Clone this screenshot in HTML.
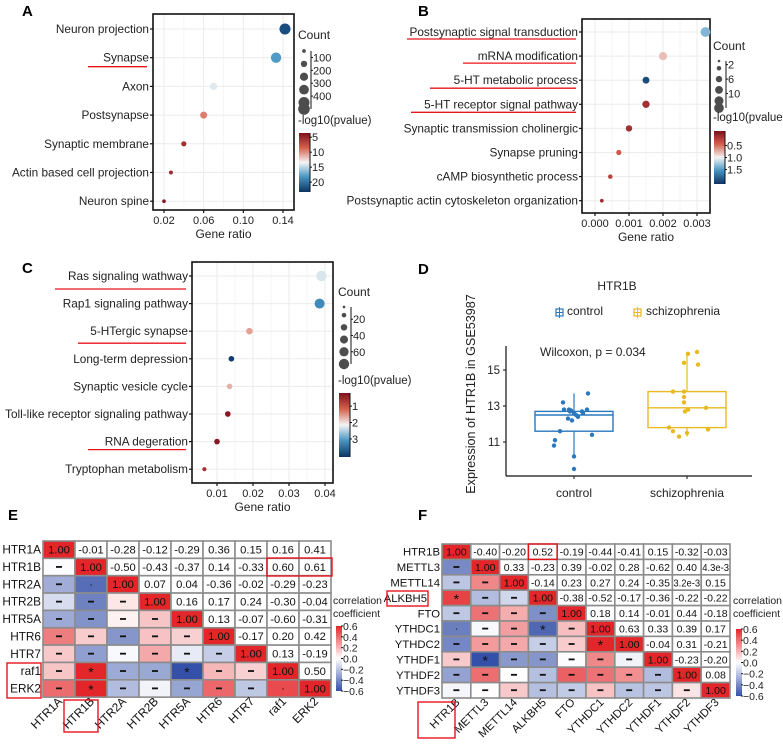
<!DOCTYPE html>
<html><head><meta charset="utf-8">
<style>
html,body{margin:0;padding:0;background:#fff;}
svg{display:block;font-family:"Liberation Sans",Arial,sans-serif;}
</style></head>
<body>
<svg id="fig" width="783" height="746" viewBox="0 0 783 746" xmlns="http://www.w3.org/2000/svg">
<defs>
<linearGradient id="rdbu" x1="0" y1="0" x2="0" y2="1">
<stop offset="0" stop-color="#7f0f1e"/><stop offset="0.25" stop-color="#d6604d"/><stop offset="0.5" stop-color="#f4f4f4"/><stop offset="0.75" stop-color="#4393c3"/><stop offset="1" stop-color="#0b3366"/>
</linearGradient>
<linearGradient id="corr" x1="0" y1="0" x2="0" y2="1">
<stop offset="0" stop-color="#e3262a"/><stop offset="0.5" stop-color="#ffffff"/><stop offset="1" stop-color="#3550a8"/>
</linearGradient>
</defs>
</svg>
<script>
// ---------- Panel A data ----------
const aTerms=["Neuron projection","Synapse","Axon","Postsynapse","Synaptic membrane","Actin based cell projection","Neuron spine"];
const aRatio=[0.142,0.133,0.070,0.060,0.040,0.027,0.020];
const aCount=[450,400,200,180,100,60,50];
const aLogp=[22,18,14,9.5,5.5,5.5,4.2];
const aTicks=[0.02,0.06,0.10,0.14];
const aCountTicks=[100,200,300,400];
const aColorTicks=[5,10,15,20];
// ---------- Panel B data ----------
const bTerms=["Postsynaptic signal transduction","mRNA modification","5-HT metabolic process","5-HT receptor signal pathway","Synaptic transmission cholinergic","Synapse pruning","cAMP biosynthetic process","Postsynaptic actin cytoskeleton organization"];
const bRatio=[0.00325,0.0020,0.0015,0.0015,0.0010,0.0007,0.00045,0.0002];
const bCount=[14,10,7,8,6,4,3,2];
const bLogp=[1.35,0.8,1.95,0.12,0.12,0.4,0.25,0.1];
const bTicks=[0,0.001,0.002,0.003];
const bCountTicks=[2,6,10];
const bColorTicks=[0.5,1.0,1.5];
// ---------- Panel C data ----------
const cTerms=["Ras signaling wathway","Rap1 signaling pathway","5-HTergic synapse","Long-term depression","Synaptic vesicle cycle","Toll-like receptor signaling pathway","RNA degeration","Tryptophan metabolism"];
const cRatio=[0.0390,0.0385,0.0190,0.0140,0.0135,0.0130,0.0100,0.0065];
const cCount=[75,70,30,22,22,22,22,12];
const cLogp=[2.3,3.2,1.6,4.0,1.7,0.3,0.3,0.6];
const cTicks=[0.01,0.02,0.03,0.04];
const cCountTicks=[20,40,60];
const cColorTicks=[1,2,3];
// ---------- Panel D data ----------
const dGroups=["control","schizophrenia"];
const dControl=[13.2,13.7,12.8,12.75,12.8,12.7,12.6,12.5,12.4,12.3,12.2,12.7,12.6,12.8,11.6,11.4,11.1,10.8,10.2,9.5];
const dSchizo=[16.0,15.9,15.4,15.3,13.8,13.8,13.5,13.2,12.9,12.8,12.7,11.8,11.7,11.6,11.5,11.3];
const dControlBox=[10.2,11.6,12.5,12.7,13.7];
const dSchizoBox=[11.3,11.8,12.9,13.8,16.0];
const dYTicks=[11,13,15];
// ---------- Panel E data ----------
const eGenes=["HTR1A","HTR1B","HTR2A","HTR2B","HTR5A","HTR6","HTR7","raf1","ERK2"];
const eUpper=[
[-0.01,-0.28,-0.12,-0.29,0.36,0.15,0.16,0.41],
[-0.50,-0.43,-0.37,0.14,-0.33,0.60,0.61],
[0.07,0.04,-0.36,-0.02,-0.29,-0.23],
[0.16,0.17,0.24,-0.30,-0.04],
[0.13,-0.07,-0.60,-0.31],
[-0.17,0.20,0.42],
[0.13,-0.19],
[0.50]];
const eMarks=[[2,1,"."],[7,1,"*"],[8,1,"*"],[7,4,"*"],[8,7,"."]];
// ---------- Panel F data ----------
const fGenes=["HTR1B","METTL3","METTL14","ALKBH5","FTO","YTHDC1","YTHDC2","YTHDF1","YTHDF2","YTHDF3"];
const fUpper=[
[-0.40,-0.20,0.52,-0.19,-0.44,-0.41,0.15,-0.32,-0.03],
[0.33,-0.23,0.39,-0.02,0.28,-0.62,0.40,0.0043],
[-0.14,0.23,0.27,0.24,-0.35,0.0032,0.15],
[-0.38,-0.52,-0.17,-0.36,-0.22,-0.22],
[0.18,0.14,-0.01,0.44,-0.18],
[0.63,0.33,0.39,0.17],
[-0.04,0.31,-0.21],
[-0.23,-0.20],
[0.08]];
const fLabels=[
["-0.40","-0.20","0.52","-0.19","-0.44","-0.41","0.15","-0.32","-0.03"],
["0.33","-0.23","0.39","-0.02","0.28","-0.62","0.40","4.3e-3"],
["-0.14","0.23","0.27","0.24","-0.35","3.2e-3","0.15"],
["-0.38","-0.52","-0.17","-0.36","-0.22","-0.22"],
["0.18","0.14","-0.01","0.44","-0.18"],
["0.63","0.33","0.39","0.17"],
["-0.04","0.31","-0.21"],
["-0.23","-0.20"],["0.08"]];
const fMarks=[[3,0,"*"],[5,0,"."],[5,3,"*"],[6,5,"*"],[7,1,"*"]];
const corrTicks=["0.6","0.4","0.2","0.0","\u22120.2","\u22120.4","\u22120.6"];

const svg=document.getElementById('fig');
const NS="http://www.w3.org/2000/svg";
function mk(tag,attrs,parent,txt){const e=document.createElementNS(NS,tag);for(const k in attrs){if(attrs[k]!==undefined)e.setAttribute(k,attrs[k]);}if(txt!==undefined)e.textContent=txt;(parent||svg).appendChild(e);return e;}
function hex(h){return [parseInt(h.slice(1,3),16),parseInt(h.slice(3,5),16),parseInt(h.slice(5,7),16)];}
function lerpStops(stops,t){t=Math.max(0,Math.min(1,t));for(let i=0;i<stops.length-1;i++){const a=stops[i],b=stops[i+1];if(t<=b[0]){const u=(t-a[0])/(b[0]-a[0]);const ca=hex(a[1]),cb=hex(b[1]);return 'rgb('+ca.map((v,k)=>Math.round(v+(cb[k]-v)*u)).join(',')+')';}}return stops[stops.length-1][1];}
const rdbuStops=[[0,"#7f0f1e"],[0.25,"#d6604d"],[0.5,"#f4f4f4"],[0.75,"#4393c3"],[1,"#0b3366"]];
const corrStops=[[0,"#3550a8"],[0.5,"#ffffff"],[1,"#e3262a"]];
function corrColor(v){return lerpStops(corrStops,(v+0.6)/1.2);}

function letter(t,x,y){const e=mk('text',{x:x,y:y,'font-size':15,'font-weight':'bold'},svg,t);}

function dotPlot(o){
  const g=mk('g',{});
  
  
  const n=o.terms.length;
  const xs=v=>o.x0+(v-o.t0)/(o.t1-o.t0)*(o.x1-o.x0);
  const ys=i=>o.rowY0+i*o.rowStep;
  for(let k=0;k<o.ticks.length;k++){mk('line',{x1:xs(o.ticks[k]),x2:xs(o.ticks[k]),y1:o.top,y2:o.bottom,stroke:'#ebebeb','stroke-width':1},g);
    if(k<o.ticks.length-1){const m=(o.ticks[k]+o.ticks[k+1])/2;mk('line',{x1:xs(m),x2:xs(m),y1:o.top,y2:o.bottom,stroke:'#f4f4f4','stroke-width':0.8},g);}}
  for(let i=0;i<n;i++)mk('line',{x1:o.left,x2:o.right,y1:ys(i),y2:ys(i),stroke:'#ebebeb','stroke-width':1},g);
  mk('rect',{x:o.left,y:o.top,width:o.right-o.left,height:o.bottom-o.top,fill:'none',stroke:'#111','stroke-width':1.6},g);
  for(let i=0;i<n;i++){
    const y=ys(i);
    mk('line',{x1:o.left-3,x2:o.left,y1:y,y2:y,stroke:'#111','stroke-width':1.2},g);
    const t=mk('text',{x:o.left-4,y:y+4,'font-size':11.8,'text-anchor':'end',fill:'#222'},g,o.terms[i]);
    
    
    const c=mk('circle',{cx:xs(o.ratio[i]),cy:y,r:o.rk*Math.sqrt(o.count[i]),fill:lerpStops(rdbuStops,(o.logp[i]-o.cmin)/(o.cmax-o.cmin))},g);
    
    
  }
  for(const tv of o.ticks){
    const x=xs(tv);
    mk('line',{x1:x,x2:x,y1:o.bottom,y2:o.bottom+3,stroke:'#111','stroke-width':1.2},g);
    const t=mk('text',{x:x,y:o.bottom+14,'font-size':11,'text-anchor':'middle',fill:'#222'},g,o.fmt(tv));
    
    
  }
  const xt=mk('text',{x:(o.left+o.right)/2,y:o.bottom+28,'font-size':12,'text-anchor':'middle',fill:'#222'},g,'Gene ratio');
  
  
  for(const u of o.under){const l=mk('line',{x1:u[1],x2:o.left-6,y1:ys(u[0])+u[2],y2:ys(u[0])+u[2],stroke:'#e8141c','stroke-width':1.3},g);
    
    }
  const L=o.leg;
  const ct=mk('text',{x:L.x,y:L.y,'font-size':12,fill:'#222'},g,'Count');
  
  
  const cy0=L.y+L.dy0, cy1=L.y+L.dy1;
  const cs=v=>cy0+(v-L.cmin)/(L.cmax-L.cmin)*(cy1-cy0);
  for(const k of L.sizes){mk('circle',{cx:L.x+6,cy:cs(k),r:o.rk*Math.sqrt(k),fill:'#4d4d4d'},g);}
  mk('line',{x1:L.x+13,x2:L.x+13,y1:cs(L.sizes[0]),y2:cs(L.sizes[L.sizes.length-1]),stroke:'#111','stroke-width':1},g);
  for(const k of o.countTicks){mk('line',{x1:L.x+13,x2:L.x+15,y1:cs(k),y2:cs(k),stroke:'#111'},g);
    mk('text',{x:L.x+15,y:cs(k)+4,'font-size':11,fill:'#222'},g,String(k));}
  const pt=mk('text',{x:L.x,y:L.py,'font-size':11.5,fill:'#222'},g,'-log10(pvalue)');
  
  
  const cb=mk('rect',{x:L.x+1,y:L.by0,width:11,height:L.by1-L.by0,fill:'url(#rdbu)'},g);
  
  
  const bs=v=>L.by0+(v-o.cmin)/(o.cmax-o.cmin)*(L.by1-L.by0);
  mk('line',{x1:L.x+12,x2:L.x+12,y1:L.by0,y2:L.by1,stroke:'#111'},g);
  for(const v of o.colorTicks){mk('line',{x1:L.x+12,x2:L.x+14,y1:bs(v),y2:bs(v),stroke:'#111'},g);
    mk('text',{x:L.x+14,y:bs(v)+4,'font-size':11,fill:'#222'},g,o.cfmt(v));}
}

letter('A',22,16);
dotPlot({name:'panel-a-go-dotplot',terms:aTerms,ratio:aRatio,count:aCount,logp:aLogp,ticks:aTicks,countTicks:aCountTicks,colorTicks:aColorTicks,
 left:153,right:294,top:14,bottom:210,x0:164,x1:283,t0:0.02,t1:0.14,rowY0:29,rowStep:28.7,rk:0.26,cmin:3.6,cmax:23.3,
 fmt:v=>v.toFixed(2),cfmt:v=>String(v),under:[[1,88,9]],
 leg:{x:298,y:39,dy0:12,dy1:70,cmin:50,cmax:500,sizes:[50,150,250,350,450,500],py:124,by0:133,by1:192}});

letter('B',418,16);
dotPlot({name:'panel-b-go-dotplot',terms:bTerms,ratio:bRatio,count:bCount,logp:bLogp,ticks:bTicks,countTicks:bCountTicks,colorTicks:bColorTicks,
 left:582,right:710,top:19,bottom:213,x0:595,x1:697,t0:0,t1:0.003,rowY0:32,rowStep:24.1,rk:1.3,cmin:-0.1,cmax:2.1,
 fmt:v=>v.toFixed(3),cfmt:v=>v.toFixed(1),under:[[0,407,7],[1,463,7],[2,430,8],[3,411,8]],
 leg:{x:713,y:50,dy0:11,dy1:58,cmin:1,cmax:14,sizes:[1,3,6,9,12,14],py:121,by0:131,by1:184}});

letter('C',22,273);
dotPlot({name:'panel-c-kegg-dotplot',terms:cTerms,ratio:cRatio,count:cCount,logp:cLogp,ticks:cTicks,countTicks:cCountTicks,colorTicks:cColorTicks,
 left:192,right:333,top:262,bottom:483,x0:217,x1:325,t0:0.01,t1:0.04,rowY0:276,rowStep:27.6,rk:0.6,cmin:0.2,cmax:4.1,
 fmt:v=>v.toFixed(2),cfmt:v=>String(v),under:[[0,55,13],[2,78,12],[6,88,8]],
 leg:{x:338,y:296,dy0:11,dy1:68,cmin:5,cmax:75,sizes:[5,15,30,45,60,75],py:384,by0:393,by1:457}});

// ---------- Panel D ----------
letter('D',418,274);
(function(){
  const g=mk('g',{});
  
  
  const ys=v=>406-(v-13)*18;
  const xc=[574,687];
  const cols=['#2a78bd','#e8b923'];
  const jit=[[-11,14,-10,-3,-5,-4,0,2,4,-6,-2,8,9,13,-14,18,-19,-20,0,0],[10,1,-3,11,-14,-3,-3,-3,19,1,-2,-18,21,-14,0,-8]];
  const data=[dControl,dSchizo], boxes=[dControlBox,dSchizoBox];
  mk('line',{x1:506,x2:506,y1:346,y2:476,stroke:'#111','stroke-width':1.2},g);
  mk('line',{x1:506,x2:752,y1:476,y2:476,stroke:'#111','stroke-width':1.2},g);
  for(const v of dYTicks){mk('line',{x1:503,x2:506,y1:ys(v),y2:ys(v),stroke:'#111'},g);
    const t=mk('text',{x:500,y:ys(v)+4,'font-size':11.5,'text-anchor':'end',fill:'#222'},g,String(v));
    
    }
  for(let k=0;k<2;k++){
    const b=boxes[k],x=xc[k],c=cols[k];
    mk('line',{x1:x,x2:x,y1:ys(b[0]),y2:ys(b[4]),stroke:c,'stroke-width':1.2},g);
    const r=mk('rect',{x:x-39,y:ys(b[3]),width:78,height:ys(b[1])-ys(b[3]),fill:'#fff',stroke:c,'stroke-width':1.4},g);
    
    
    mk('line',{x1:x-39,x2:x+39,y1:ys(b[2]),y2:ys(b[2]),stroke:c,'stroke-width':1.4},g);
    data[k].forEach((v,i)=>{const p=mk('circle',{cx:x+jit[k][i],cy:ys(v),r:2.2,fill:c},g);
      
      });
    mk('line',{x1:x,x2:x,y1:476,y2:479,stroke:'#111'},g);
    const t=mk('text',{x:x,y:497,'font-size':12,'text-anchor':'middle',fill:'#222'},g,dGroups[k]);
    
    
  }
  const tt=mk('text',{x:617,y:290,'font-size':12,'text-anchor':'middle',fill:'#222'},g,'HTR1B');
  
  
  const wt=mk('text',{x:540,y:356,'font-size':12,fill:'#222'},g,'Wilcoxon, p = 0.034');
  
  
  const yt=mk('text',{x:0,y:0,'font-size':12.6,'text-anchor':'middle',fill:'#222',transform:'translate(475,394) rotate(-90)'},g,'Expression of HTR1B in GSE53987');
  
  
  const lx=[556,634],ltx=[567,646];
  for(let k=0;k<2;k++){
    const li=mk('g',{},g);
    
    
    mk('rect',{x:lx[k],y:309,width:7,height:7,fill:'none',stroke:cols[k],'stroke-width':1.2},li);
    mk('line',{x1:lx[k],x2:lx[k]+7,y1:312.5,y2:312.5,stroke:cols[k]},li);
    mk('line',{x1:lx[k]+3.5,x2:lx[k]+3.5,y1:307,y2:318,stroke:cols[k]},li);
    mk('text',{x:ltx[k],y:315,'font-size':12,fill:'#222'},li,dGroups[k]);
  }
})();

// ---------- Heatmaps ----------
function heatmap(o){
  const g=mk('g',{});
  
  
  const n=o.genes.length;
  const val=(i,j)=> i===j?1:(i<j?o.upper[i][j-i-1]:o.upper[j][i-j-1]);
  for(let i=0;i<n;i++)for(let j=0;j<n;j++){
    const x=o.x0+j*o.cw,y=o.y0+i*o.ch,v=val(i,j);
    let fill='#fff';
    if(i===j)fill='#e3262a';else if(i>j)fill=corrColor(v);
    const r=mk('rect',{x:x,y:y,width:o.cw,height:o.ch,fill:fill,stroke:'#8c8c8c','stroke-width':1.6},g);
    
    
    let txt,fs=o.fs;
    if(i===j)txt='1.00';
    else if(i<j)txt=o.labels?o.labels[i][j-i-1]:v.toFixed(2);
    else{txt='\u2013';for(const m of o.marks)if(m[0]===i&&m[1]===j)txt=m[2];}
    if(txt==='\u2013'){mk('rect',{x:x+o.cw/2-3,y:y+o.ch/2-1,width:6,height:1.8,fill:'#111'},g);}
    else mk('text',{x:x+o.cw/2,y:y+o.ch/2+(txt==='*'?6:(txt==='.'?1:3.8)),'font-size':txt==='*'?14:fs,'text-anchor':'middle',fill:'#111',textLength:(txt.length>5?o.cw-2:undefined),lengthAdjust:(txt.length>5?'spacingAndGlyphs':undefined)},g,txt);
  }
  for(let i=0;i<n;i++){
    const off=(o.labelOff&&o.labelOff[i])||0;
    const t=mk('text',{x:o.x0-2-off,y:o.y0+i*o.ch+o.ch/2+4,'font-size':o.lfs,'text-anchor':'end',fill:'#111'},g,o.genes[i]);
    
    
    const cx=o.x0+i*o.cw+o.cw/2+4, cy=o.y0+n*o.ch+5;
    const c=mk('text',{x:0,y:0,'font-size':o.lfs,'text-anchor':'end',fill:'#111',transform:'translate('+cx+','+cy+') rotate(-45)'},g,o.genes[i]);
    
    
  }
  const L=o.leg;
  mk('text',{x:L.x,y:L.y,'font-size':10.5,fill:'#222'},g,'correlation');
  mk('text',{x:L.x,y:L.y+13,'font-size':10.5,fill:'#222'},g,'coefficient');
  const cb=mk('rect',{x:L.x+3,y:L.by0,width:6,height:L.by1-L.by0,fill:'url(#corr)'},g);
  
  
  corrTicks.forEach((t,k)=>{const y=L.by0+k*(L.by1-L.by0)/(corrTicks.length-1);
    mk('line',{x1:L.x+8,x2:L.x+10,y1:y,y2:y,stroke:'#111'},g);
    mk('text',{x:L.x+10,y:y+4,'font-size':10.5,fill:'#222'},g,t);});
  for(const b of o.boxes){const r=mk('rect',{x:b[0],y:b[1],width:b[2],height:b[3],fill:'none',stroke:'#e8141c','stroke-width':1.4},g);
    
    }
}
letter('E',8,520);
heatmap({name:'panel-e-correlation-heatmap',genes:eGenes,upper:eUpper,marks:eMarks,x0:43,y0:541,cw:32,ch:17.35,fs:11.2,lfs:11.8,
 leg:{x:333,y:604,by0:626,by1:691},boxes:[[267,558,65,18],[7,663,34,35],[64,700,34,32]]});
letter('F',418,520);
heatmap({name:'panel-f-correlation-heatmap',genes:fGenes,upper:fUpper,labels:fLabels,marks:fMarks,x0:442,y0:544,cw:28.8,ch:15.4,fs:10.5,lfs:11.3,labelOff:{3:13},
 leg:{x:733,y:604,by0:629,by1:696},boxes:[[528.4,544,28.8,15.4],[387,591,41,15],[418,702,37,36]]});
</script>
</body></html>
